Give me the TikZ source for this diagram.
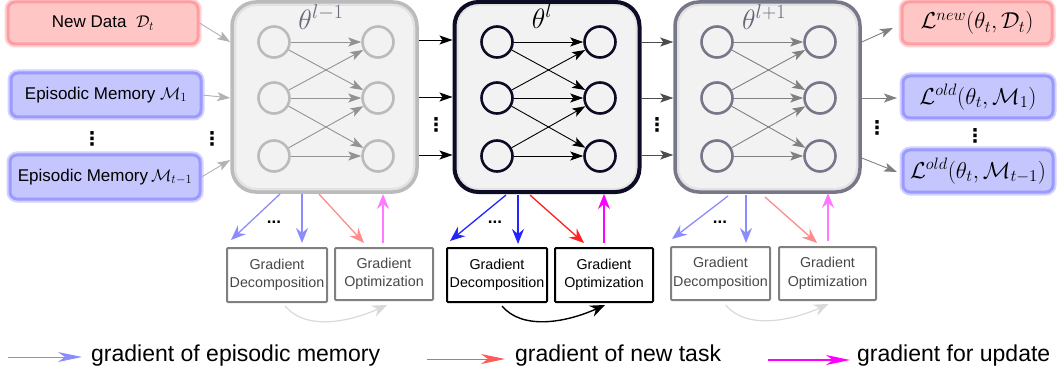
\RequirePackage{fix-cm}
\documentclass[tikz,border=0pt]{standalone}
\usepackage{fontspec}
\setmainfont{Liberation Sans}
\newfontfamily\dvsans{DejaVu Sans}
\DeclareMathSizes{17}{17}{12.5}{10}
\DeclareMathSizes{23}{23}{16.5}{12}
\DeclareMathSizes{28}{28}{20}{14}
\usetikzlibrary{arrows.meta,calc}
\definecolor{pinkfill}{HTML}{FFC6C6}
\definecolor{pinkline}{HTML}{FF9EA2}
\definecolor{bluefill}{HTML}{C6C6FF}
\definecolor{blueline}{HTML}{9A9AFF}
\definecolor{netfill}{HTML}{F2F2F2}
\definecolor{netring}{HTML}{E2E2E2}
\definecolor{gA}{HTML}{BBBBBB}
\definecolor{gC}{HTML}{77778A}
\definecolor{navy}{HTML}{0C0C26}
\definecolor{fblue}{HTML}{8C8CFF}
\definecolor{sblue}{HTML}{2424FF}
\definecolor{fred}{HTML}{FF8C8C}
\definecolor{lred}{HTML}{FF5A5A}
\definecolor{sred}{HTML}{FF2424}
\definecolor{fmag}{HTML}{FF7AFF}
\definecolor{smag}{HTML}{FF00FF}
\tikzset{
  inbox/.style={draw=#1line, fill=#1fill, line width=3pt, rounded corners=7pt,
    preaction={draw=#1line!45, line width=7pt},
    minimum width=150pt, minimum height=42pt, inner sep=0pt},
  netbox/.style={draw=#1, line width=3.5pt, rounded corners=24pt, fill=netring,
    minimum width=185pt, minimum height=190pt, inner sep=0pt},
  neuron/.style={circle, draw=#1, line width=2.6pt, minimum size=31pt, inner sep=0pt},
  nedge/.style={draw=#1, line width=0.9pt, -{Stealth[length=13pt,width=9pt,inset=3pt]}},
  gbox/.style={draw=#1, line width=2pt, rounded corners=1pt, fill=white, align=center,
    inner sep=0pt, font=\fontsize{14.3}{18.5}\selectfont},
  garrow/.style={draw=#1, line width=1.3pt, -{Stealth[length=15pt,width=12pt,inset=5pt]}},
  legarrow/.style={draw=#1, line width=1pt, -{Stealth[length=24pt,width=10pt,inset=7pt]}},
  legtext/.style={anchor=west, inner sep=0pt, font=\fontsize{23}{27}\selectfont},
  vd/.style={inner sep=0pt, font=\dvsans\bfseries\fontsize{19}{20}\selectfont},
  hd/.style={inner sep=0pt, font=\fontsize{17}{18}\selectfont\bfseries},
  thl/.style={inner sep=0pt, font=\fontsize{28}{32}\selectfont},
  outl/.style={inner sep=0pt, font=\fontsize{23}{27}\selectfont},
  intext/.style={font=\fontsize{17}{21}\selectfont},
}
\begin{document}
\begin{tikzpicture}[x=1pt,y=-1pt]
\useasboundingbox (0,0) rectangle (1060,377);

% ---------- input boxes ----------
\node[inbox=pink, minimum width=190pt, intext] (newdata) at (103,23)
  {New Data~~$\mathcal{D}_t$};
\node[inbox=blue, minimum width=190pt, minimum height=44pt, intext] (mem1) at (106,95)
  {Episodic Memory $\mathcal{M}_1$};
\node[inbox=blue, minimum width=190pt, minimum height=44pt, intext] (memt) at (105,177)
  {Episodic Memory\,$\mathcal{M}_{t-1}$};
\node[vd] (vdin1) at (92,139) {⋮};
\node[vd] (vdin2) at (212,139) {⋮};

% ---------- output boxes ----------
\node[inbox=pink] (lnew) at (977,23) {};
\node[outl] (lnewt) at (lnew) {$\mathcal{L}^{new}(\theta_t,\mathcal{D}_t)$};
\node[inbox=blue] (lold1) at (978,97) {};
\node[outl] (lold1t) at (lold1) {$\mathcal{L}^{old}(\theta_t,\mathcal{M}_1)$};
\node[inbox=blue] (loldt) at (978,171) {};
\node[outl] (loldtt) at (loldt) {$\mathcal{L}^{old}(\theta_t,\mathcal{M}_{t-1})$};
\node[vd] (vdout1) at (877,128) {⋮};
\node[vd] (vdout2) at (975,136) {⋮};

% ---------- network boxes ----------
\node[netbox=gA] (net1) at (324.5,97) {};
\node[netbox=navy, line width=4pt] (net2) at (547,97) {};
\node[netbox=gC] (net3) at (767.5,97) {};
\foreach \n in {net1,net2,net3}{
  \fill[netfill, rounded corners=20pt] ($(\n.north west)+(6,6)$) rectangle ($(\n.south east)+(-6,-6)$);
}

\node[thl, text=gC!90!black] (th1) at (321,17) {$\theta^{l-1}$};
\node[thl, text=black] (th2) at (542,16) {$\theta^{l}$};
\node[thl, text=gC!85!black] (th3) at (764,17) {$\theta^{l+1}$};

% neurons
\foreach \y/\k in {42/a,98/b,156/c}{
  \node[neuron=gA] (p1\k) at (274,\y) {};
  \node[neuron=gA] (q1\k) at (378,\y) {};
  \node[neuron=navy] (p2\k) at (497,\y) {};
  \node[neuron=navy] (q2\k) at (600,\y) {};
  \node[neuron=gC] (p3\k) at (717,\y) {};
  \node[neuron=gC] (q3\k) at (820,\y) {};
}
\foreach \i/\c in {1/gray!85,2/black,3/gray}{
  \draw[nedge=\c] (p\i a) -- (q\i a);
  \draw[nedge=\c] (p\i a) -- (q\i b);
  \draw[nedge=\c] (p\i b) -- (q\i a);
  \draw[nedge=\c] (p\i b) -- (q\i b);
  \draw[nedge=\c] (p\i b) -- (q\i c);
  \draw[nedge=\c] (p\i c) -- (q\i b);
  \draw[nedge=\c] (p\i c) -- (q\i c);
}

% ---------- connectors between stages ----------
\coordinate (i1) at (net1.west |- 0,42);
\coordinate (i2) at (net1.west |- 0,98);
\coordinate (i3) at (net1.west |- 0,160);
\draw[nedge=gray!60] (newdata.east) -- (i1);
\draw[nedge=gray!60] (mem1.east) -- (i2);
\draw[nedge=gray!60] (memt.east) -- (i3);

\foreach \y in {40,97,155}{
  \draw[nedge=black] (net1.east |- 0,\y) -- (net2.west |- 0,\y);
}
\foreach \y in {42,98,155}{
  \draw[nedge=black!70] (net2.east |- 0,\y) -- (net3.west |- 0,\y);
}
\node[vd] (vdn1) at (436,125) {⋮};
\node[vd] (vdn2) at (657,125) {⋮};

\coordinate (o1) at (893,28);
\coordinate (o2) at (897,98);
\coordinate (o3) at (897,172);
\draw[nedge=gray] (net3.east |- 0,42) -- (o1);
\draw[nedge=gray] (net3.east |- 0,98) -- (o2);
\draw[nedge=gray] (net3.east |- 0,158) -- (o3);

% ---------- gradient boxes ----------
\node[gbox=gray, text=black!72, minimum width=100pt, minimum height=54pt] (gd1) at (277,275) {Gradient\\Decomposition};
\node[gbox=gray, text=black!72, minimum width=98pt, minimum height=52pt] (go1) at (384,274) {Gradient\\Optimization};
\node[gbox=black, minimum width=100pt, minimum height=54pt] (gd2) at (497,275) {Gradient\\Decomposition};
\node[gbox=black, minimum width=98pt, minimum height=54pt] (go2) at (604,275) {Gradient\\Optimization};
\node[gbox=gray, text=black!72, minimum width=99pt, minimum height=53pt] (gd3) at (720.5,273.5) {Gradient\\Decomposition};
\node[gbox=gray, text=black!72, minimum width=97pt, minimum height=53pt] (go3) at (827.5,273.5) {Gradient\\Optimization};

% ---------- gradient arrows ----------
% stage 1
\coordinate (a1s) at (280,194); \coordinate (a1e) at (231,240);
\coordinate (b1s) at (302,194); \coordinate (b1e) at (302,243);
\coordinate (c1s) at (319,194); \coordinate (c1e) at (364,243);
\coordinate (d1s) at (383,243); \coordinate (d1e) at (383,194);
\draw[garrow=fblue] (a1s) -- (a1e);
\draw[garrow=fblue] (b1s) -- (b1e);
\draw[garrow=fred] (c1s) -- (c1e);
\draw[garrow=fmag] (d1s) -- (d1e);
\node[hd] (dd1) at (274,222) {...};
% stage 2
\coordinate (a2s) at (506,195); \coordinate (a2e) at (450,241);
\coordinate (b2s) at (518,195); \coordinate (b2e) at (518,244);
\coordinate (c2s) at (530,195); \coordinate (c2e) at (584,243);
\coordinate (d2s) at (604,243); \coordinate (d2e) at (604,194);
\draw[garrow=sblue] (a2s) -- (a2e);
\draw[garrow=sblue] (b2s) -- (b2e);
\draw[garrow=sred] (c2s) -- (c2e);
\draw[garrow=smag] (d2s) -- (d2e);
\node[hd] (dd2) at (495,222) {...};
% stage 3
\coordinate (a3s) at (728,196); \coordinate (a3e) at (672,239);
\coordinate (b3s) at (746,195); \coordinate (b3e) at (746,243);
\coordinate (c3s) at (765,197); \coordinate (c3e) at (817,243);
\coordinate (d3s) at (828,241); \coordinate (d3e) at (828,193);
\draw[garrow=fblue] (a3s) -- (a3e);
\draw[garrow=fblue] (b3s) -- (b3e);
\draw[garrow=fred] (c3s) -- (c3e);
\draw[garrow=fmag] (d3s) -- (d3e);
\node[hd] (dd3) at (720,222) {...};

% ---------- curved arrows ----------
\draw[line width=1.2pt, gray!30, -{Stealth[length=15pt,width=12pt,inset=5pt]}]
  ($(gd1.south)+(8,3)$) .. controls +(20,24) and +(-40,18) .. ($(go1.south)+(3,4)$);
\draw[line width=1.4pt, black, -{Stealth[length=15pt,width=12pt,inset=5pt]}]
  ($(gd2.south)+(5,3)$) .. controls +(20,24) and +(-40,18) .. ($(go2.south)+(1,2)$);
\draw[line width=1.2pt, gray!30, -{Stealth[length=15pt,width=12pt,inset=5pt]}]
  ($(gd3.south)+(5,4)$) .. controls +(20,24) and +(-40,18) .. ($(go3.south)+(1,3)$);

% ---------- legend ----------
\coordinate (l1a) at (8,357); \coordinate (l1b) at (82,357);
\coordinate (l2a) at (427,359); \coordinate (l2b) at (505,359);
\coordinate (l3a) at (768,360); \coordinate (l3b) at (850,360);
\draw[legarrow=fblue] (l1a) -- (l1b);
\draw[legarrow=lred] (l2a) -- (l2b);
\draw[legarrow=smag, line width=1.4pt] (l3a) -- (l3b);
\node[legtext] (t1) at (91,356) {gradient of episodic memory};
\node[legtext] (t2) at (515,356) {gradient of new task};
\node[legtext] (t3) at (857,356) {gradient for update};
\end{tikzpicture}
\end{document}
